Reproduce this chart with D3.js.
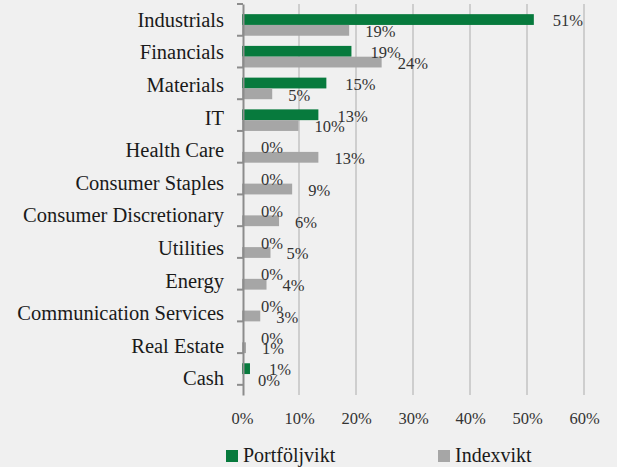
<!DOCTYPE html>
<html>
<head>
<meta charset="utf-8">
<script src="https://cdn.jsdelivr.net/npm/d3@7"></script>
<style>
  body { margin: 0; background: #f0f0f0; }
  svg { display: block; }
</style>
</head>
<body>
<svg width="617" height="467"></svg>
<script>
// Sektorer, uppifrån och ned
const categories = ["Industrials", "Financials", "Materials", "IT", "Health Care",
    "Consumer Staples", "Consumer Discretionary", "Utilities", "Energy",
    "Communication Services", "Real Estate", "Cash"];
const portfolj = [51.2, 19.2, 14.8, 13.4, 0, 0, 0, 0, 0, 0, 0, 1.4];
const index = [18.8, 24.5, 5.3, 9.9, 13.4, 8.8, 6.5, 5.0, 4.3, 3.2, 0.7, 0];
const portfoljLabels = ["51%", "19%", "15%", "13%", "0%", "0%", "0%", "0%", "0%", "0%", "0%", "1%"];
const indexLabels = ["19%", "24%", "5%", "10%", "13%", "9%", "6%", "5%", "4%", "3%", "1%", "0%"];
const xTicks = [0, 10, 20, 30, 40, 50, 60];
const seriesNames = ["Portföljvikt", "Indexvikt"];
const colors = ["#077a3d", "#a6a6a6"];

const serifFont = "Liberation Serif";
const svg = d3.select("svg");

const x = d3.scaleLinear().domain([0, 60]).range([242, 584]);
const y = d3.scaleBand().domain(categories).range([4, 395]).padding(0.32);
const ySub = d3.scaleBand().domain(seriesNames).range([0, y.bandwidth()]);

// Rutnät
svg.append("g").selectAll("line")
    .data(xTicks.slice(1))
    .enter().append("line")
    .attr("x1", d => x(d)).attr("x2", d => x(d))
    .attr("y1", 4).attr("y2", 395)
    .attr("stroke", "#c3c3c3")
    .attr("stroke-width", 1.5);

// Staplar
const rows = categories.map((c, i) => ({
    cat: c,
    vals: [
        { s: seriesNames[0], v: portfolj[i], lab: portfoljLabels[i], off: 19, c: colors[0] },
        { s: seriesNames[1], v: index[i], lab: indexLabels[i], off: 16, c: colors[1] }
    ]
}));

const g = svg.selectAll(".row")
    .data(rows)
    .enter().append("g")
    .attr("class", "row")
    .attr("transform", d => `translate(0,${y(d.cat)})`);

g.selectAll("rect")
    .data(d => d.vals)
    .enter().append("rect")
    .attr("x", x(0))
    .attr("y", d => ySub(d.s))
    .attr("width", d => x(d.v) - x(0))
    .attr("height", ySub.bandwidth())
    .attr("fill", d => d.c);

g.selectAll("text")
    .data(d => d.vals)
    .enter().append("text")
    .attr("x", d => x(d.v) + d.off)
    .attr("y", d => ySub(d.s) + ySub.bandwidth() / 2 + 3)
    .attr("dominant-baseline", "middle")
    .attr("font-family", serifFont)
    .attr("font-size", 16.5)
    .attr("fill", "#333")
    .text(d => d.lab);

// Y-axel
const yAxis = svg.append("g")
    .attr("transform", `translate(${x(0) + 1},0)`)
    .call(d3.axisLeft(d3.scaleBand().domain(categories).range([4, 395])).tickSize(0).tickPadding(19));
yAxis.select(".domain").attr("stroke", "#8c8c8c").attr("stroke-width", 2);
yAxis.selectAll("text")
    .attr("font-family", serifFont)
    .attr("font-size", 20.5)
    .attr("fill", "#1a1a1a");

// Små streck mellan kategorierna
svg.append("g").selectAll("line")
    .data(d3.range(categories.length + 1))
    .enter().append("line")
    .attr("x1", x(0) - 5).attr("x2", x(0) + 1)
    .attr("y1", i => 4 + i * y.step()).attr("y2", i => 4 + i * y.step())
    .attr("stroke", "#8c8c8c")
    .attr("stroke-width", 2);

// X-axel
const xAxis = svg.append("g")
    .attr("transform", "translate(0,395)")
    .call(d3.axisBottom(x).tickValues(xTicks).tickSize(0).tickPadding(17).tickFormat(d => d + "%"));
xAxis.select(".domain").remove();
xAxis.selectAll("text")
    .attr("font-family", serifFont)
    .attr("font-size", 16.5)
    .attr("fill", "#333");

// Legend
const legendX = [226, 438];
const legend = svg.selectAll(".legend")
    .data(seriesNames)
    .enter().append("g")
    .attr("class", "legend")
    .attr("transform", (d, i) => `translate(${legendX[i]},450)`);
legend.append("rect")
    .attr("width", 12).attr("height", 12)
    .attr("fill", (d, i) => colors[i]);
legend.append("text")
    .attr("x", 17).attr("y", 7)
    .attr("dominant-baseline", "middle")
    .attr("font-family", serifFont)
    .attr("font-size", 20)
    .attr("fill", "#1a1a1a")
    .text(d => d);
</script>
</body>
</html>
